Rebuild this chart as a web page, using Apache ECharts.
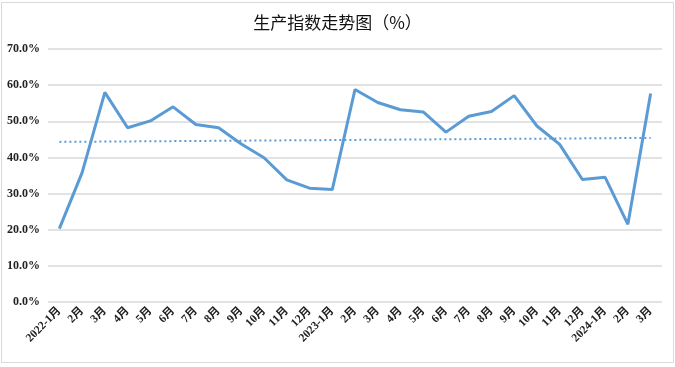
<!DOCTYPE html>
<html>
<head>
<meta charset="utf-8">
<script src="https://cdn.jsdelivr.net/npm/echarts@6/dist/echarts.min.js"></script>
<style>
html,body{margin:0;padding:0;background:#fff;}
#c{width:675px;height:367px;}
</style>
</head>
<body>
<div id="c"></div>
<script>
const categories = ['2022-1月','2月','3月','4月','5月','6月','7月','8月','9月','10月','11月','12月',
  '2023-1月','2月','3月','4月','5月','6月','7月','8月','9月','10月','11月','12月',
  '2024-1月','2月','3月'];
const production = [20.3,35.8,58.0,48.2,50.1,54.0,49.1,48.2,43.7,39.9,33.8,31.5,
  31.1,58.8,55.2,53.2,52.6,47.0,51.4,52.7,57.1,48.7,43.6,33.9,
  34.5,21.5,57.7];
const trendStartEnd = [44.3, 45.4];
const yMin = 0, yMax = 70, yStep = 10;
const titleText = '生产指数走势图（%）';

const trendData = categories.map((c, i) => i === 0 ? trendStartEnd[0] : (i === categories.length - 1 ? trendStartEnd[1] : null));

const chart = echarts.init(document.getElementById('c'), null, {renderer: 'canvas'});
chart.setOption({
  animation: false,
  backgroundColor: '#fff',
  graphic: [{
    type: 'rect', shape: {x: 1.5, y: 2.5, width: 672, height: 360},
    style: {fill: 'none', stroke: '#d9d9d9', lineWidth: 1}, z: -1
  }],
  title: {
    text: titleText, left: 'center', top: 9,
    textStyle: {fontFamily: '"Noto Sans CJK SC"', fontSize: 17, fontWeight: 'normal', color: '#111'}
  },
  grid: {left: 48, right: 13, top: 49, bottom: 65, containLabel: false},
  xAxis: {
    type: 'category', data: categories, boundaryGap: true,
    axisLine: {show: false}, axisTick: {show: false},
    axisLabel: {interval: 0, rotate: 45, margin: 7, color: '#222',
      fontFamily: '"Liberation Serif", "Noto Sans CJK SC"', fontWeight: 'bold', fontSize: 11.5}
  },
  yAxis: {
    type: 'value', min: yMin, max: yMax, interval: yStep,
    axisLine: {show: false}, axisTick: {show: false},
    axisLabel: {formatter: v => v.toFixed(1) + '%', margin: 8, color: '#222',
      fontFamily: '"Liberation Serif"', fontWeight: 'bold', fontSize: 12},
    splitLine: {lineStyle: {color: '#d9d9d9', width: 1.5}}
  },
  series: [{
    type: 'line', data: production, showSymbol: false, smooth: false,
    lineStyle: {color: '#5b9bd5', width: 3}, itemStyle: {color: '#5b9bd5'}, z: 3
  }, {
    type: 'line', data: trendData, connectNulls: true, showSymbol: false,
    lineStyle: {color: '#5b9bd5', width: 2, type: [2, 3]}, z: 2
  }]
});
</script>
</body>
</html>
